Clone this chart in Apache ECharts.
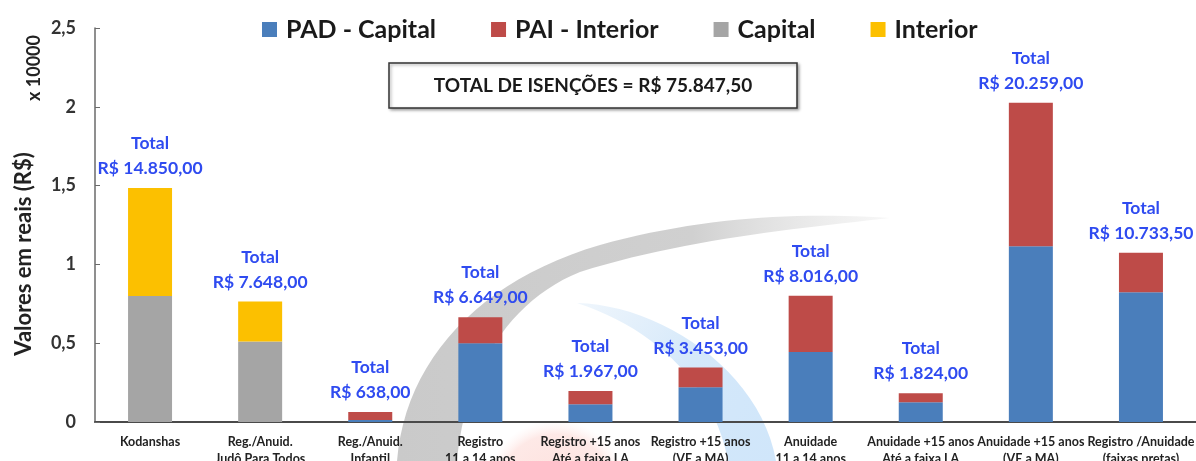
<!DOCTYPE html>
<html>
<head>
<meta charset="utf-8">
<title>Isenções</title>
<script src="https://cdn.jsdelivr.net/npm/echarts@6/dist/echarts.min.js"></script>
<style>
  html, body { margin: 0; padding: 0; background: #ffffff; }
  #chart { width: 1196px; height: 461px; }
</style>
</head>
<body>
<div id="chart"></div>
<script>
// Categories (x axis)
const categories = [
  'Kodanshas',
  'Reg./Anuid.\nJudô Para Todos',
  'Reg./Anuid.\nInfantil',
  'Registro\n11 a 14 anos',
  'Registro +15 anos\nAté a faixa LA',
  'Registro +15 anos\n(VE a MA)',
  'Anuidade\n11 a 14 anos',
  'Anuidade +15 anos\nAté a faixa LA',
  'Anuidade +15 anos\n(VE a MA)',
  'Registro /Anuidade\n(faixas pretas)'
];

// Values in R$
const padCapital  = [0, 0, 130, 5000, 1130, 2200, 4440, 1250, 11150, 8240];
const paiInterior = [0, 0, 508, 1649, 837, 1253, 3576, 574, 9109, 2493.5];
const capital     = [8000, 5100, 0, 0, 0, 0, 0, 0, 0, 0];
const interior    = [6850, 2548, 0, 0, 0, 0, 0, 0, 0, 0];

// Y axis ticks (R$), shown in units of 10000
const yTicks = [0, 5000, 10000, 15000, 20000, 25000];
const totalText = 'TOTAL DE ISENÇÕES = R$ 75.847,50';

const totals = categories.map((_, i) => padCapital[i] + paiInterior[i] + capital[i] + interior[i]);

function brl(v) {
  const parts = v.toFixed(2).split('.');
  parts[0] = parts[0].replace(/\B(?=(\d{3})+(?!\d))/g, '.');
  return parts[0] + ',' + parts[1];
}

// Flatten an outline of cubic bezier segments into polygon points
function outline(start, segs) {
  const pts = [start.slice()];
  let p = start;
  segs.forEach(function (s) {
    if (s.length === 2) { pts.push(s.slice()); p = s; return; }
    for (let k = 1; k <= 24; k++) {
      const t = k / 24, u = 1 - t;
      pts.push([
        u * u * u * p[0] + 3 * u * u * t * s[0] + 3 * u * t * t * s[2] + t * t * t * s[4],
        u * u * u * p[1] + 3 * u * u * t * s[1] + 3 * u * t * t * s[3] + t * t * t * s[5]
      ]);
    }
    p = [s[4], s[5]];
  });
  return pts;
}

const FONT = 'Lato, "Open Sans", sans-serif';
const chart = echarts.init(document.getElementById('chart'), null, { renderer: 'canvas' });

const barW = 44;
function barSeries(name, data, color) {
  return {
    name: name, type: 'bar', stack: 'total', data: data,
    barWidth: barW, itemStyle: { color: color }, z: 3
  };
}

chart.setOption({
  animation: false,
  backgroundColor: '#ffffff',
  textStyle: { fontFamily: FONT },
  grid: { left: 95, right: 0, top: 28, bottom: 39, outerBoundsMode: 'none', containLabel: false },
  legend: {
    data: ['PAD - Capital', 'PAI - Interior', 'Capital', 'Interior'],
    left: 262, top: 17, padding: 0,
    itemWidth: 15, itemHeight: 15, itemGap: 55,
    icon: 'rect',
    textStyle: { fontFamily: FONT, fontSize: 25, fontWeight: 'bold', color: '#1a1a1a', padding: [0, 0, 0, 4] }
  },
  xAxis: {
    type: 'category',
    data: categories,
    axisTick: { show: false },
    axisLine: { lineStyle: { color: '#4a4a4a', width: 2 } },
    axisLabel: {
      interval: 0, margin: 11, fontSize: 12.5, fontWeight: 'bold', color: '#222',
      lineHeight: 17, fontFamily: FONT
    }
  },
  yAxis: {
    type: 'value',
    min: yTicks[0], max: yTicks[yTicks.length - 1], interval: yTicks[1] - yTicks[0],
    splitLine: { show: false },
    axisLine: { show: true, lineStyle: { color: '#6a6a6a', width: 1.5 } },
    axisTick: { show: true, inside: true, length: 5, lineStyle: { color: '#6a6a6a' } },
    axisLabel: {
      margin: 19, fontSize: 18, fontWeight: 'bold', color: '#333', fontFamily: FONT,
      formatter: v => String(v / 10000).replace('.', ',')
    }
  },
  series: [
    barSeries('PAD - Capital', padCapital, '#4a7ebb'),
    barSeries('Capital', capital, '#a5a5a5'),
    barSeries('PAI - Interior', paiInterior, '#be4b48'),
    barSeries('Interior', interior, '#fcc000'),
    {
      name: 'Total', type: 'bar', stack: 'total', barWidth: barW, z: 4,
      data: totals.map(() => 0),
      itemStyle: { color: 'rgba(0,0,0,0)' },
      silent: true,
      label: {
        show: true, position: 'top', distance: 7,
        fontFamily: FONT, fontSize: 17.5, fontWeight: 'bold', color: '#2f4bf0',
        lineHeight: 25, align: 'center',
        formatter: p => 'Total\nR$ ' + brl(totals[p.dataIndex])
      }
    }
  ],
  graphic: [
    // faded emblem in the background
    {
      type: 'circle', z: 0, silent: true,
      shape: { cx: 556, cy: 492, r: 72 },
      style: {
        fill: {
          type: 'radial', x: 0.5, y: 0.5, r: 0.5,
          colorStops: [
            { offset: 0, color: 'rgba(252,210,205,0.7)' },
            { offset: 0.8, color: 'rgba(253,218,214,0.6)' },
            { offset: 1, color: 'rgba(255,235,233,0)' }
          ]
        }
      }
    },
    {
      type: 'polygon', z: 0, silent: true,
      shape: {
        points: outline([397, 461], [
          [405, 360, 480, 280, 600, 245],
          [700, 217, 800, 212, 890, 218],
          [800, 228, 680, 240, 580, 272],
          [510, 300, 465, 370, 457, 461]
        ])
      },
      style: {
        fill: {
          type: 'linear', x: 0, y: 0, x2: 1, y2: 0,
          colorStops: [
            { offset: 0, color: 'rgba(202,202,202,1)' },
            { offset: 0.6, color: 'rgba(208,208,208,1)' },
            { offset: 1, color: 'rgba(228,228,228,0.3)' }
          ]
        }
      }
    },
    {
      type: 'polygon', z: 0, silent: true,
      shape: {
        points: outline([577, 303], [
          [660, 305, 760, 370, 776, 461],
          [728, 461],
          [715, 390, 660, 330, 577, 303]
        ])
      },
      style: {
        fill: {
          type: 'linear', x: 0, y: 0, x2: 1, y2: 1,
          colorStops: [
            { offset: 0, color: 'rgba(215,232,248,0.4)' },
            { offset: 0.5, color: 'rgba(212,232,250,1)' },
            { offset: 1, color: 'rgba(208,230,250,1)' }
          ]
        }
      }
    },
    // axis captions
    {
      type: 'text', silent: true, z: 10,
      x: 24, y: 254, rotation: Math.PI / 2,
      style: {
        text: 'Valores em reais (R$)', fontFamily: FONT, fontSize: 22, fontWeight: 'bold',
        fill: '#222', align: 'center', verticalAlign: 'middle'
      }
    },
    {
      type: 'text', silent: true, z: 10,
      x: 34, y: 68, rotation: Math.PI / 2,
      style: {
        text: 'x 10000', fontFamily: FONT, fontSize: 18, fontWeight: 'bold',
        fill: '#222', align: 'center', verticalAlign: 'middle'
      }
    },
    // total box
    {
      type: 'rect', z: 10, silent: true,
      shape: { x: 389, y: 63, width: 408, height: 45 },
      style: {
        fill: '#ffffff', stroke: '#333', lineWidth: 1.5,
        shadowColor: 'rgba(0,0,0,0.35)', shadowBlur: 3, shadowOffsetX: 1.5, shadowOffsetY: 1.5
      }
    },
    {
      type: 'text', z: 11, silent: true,
      x: 593, y: 86,
      style: {
        text: totalText, fontFamily: FONT, fontSize: 19, fontWeight: 'bold',
        fill: '#1a1a1a', align: 'center', verticalAlign: 'middle'
      }
    }
  ]
});
</script>
</body>
</html>
